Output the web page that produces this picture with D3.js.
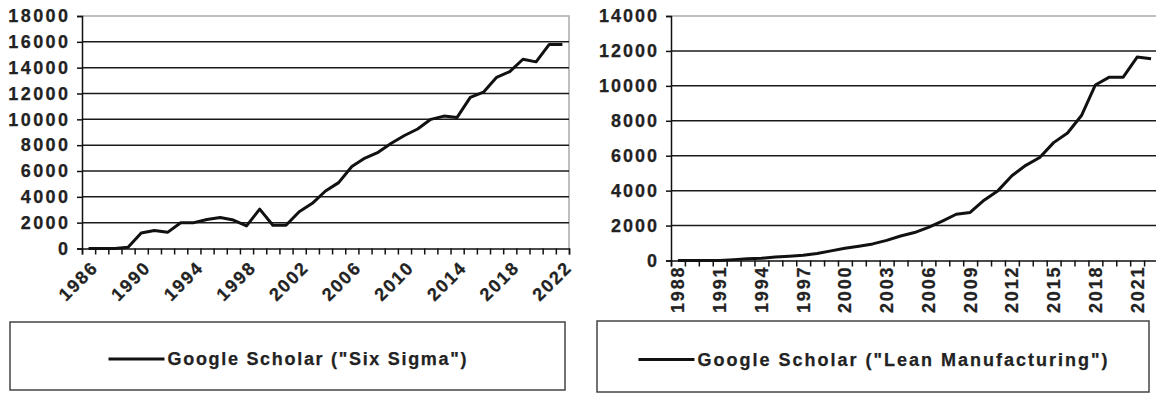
<!DOCTYPE html>
<html>
<head>
<meta charset="utf-8">
<script src="https://cdn.jsdelivr.net/npm/d3@7"></script>
<style>
  body { margin: 0; background: #fff; }
  svg text {
    font-family: "Liberation Sans", Arial, sans-serif;
    font-weight: bold;
    font-size: 18px;
    fill: #222;
    stroke: #222;
    stroke-width: 0.25px;
  }
</style>
</head>
<body>
<svg id="chart" width="1156" height="394"></svg>
<script>
// left panel: Google Scholar hits for "Six Sigma"
const sixSigmaYears = d3.range(1986, 2023);
const sixSigmaCounts = [0, 0, 0, 100, 1200, 1400, 1250, 2000, 2000, 2250,
  2400, 2200, 1750, 3050, 1800, 1800, 2850, 3500, 4450, 5100,
  6350, 7000, 7450, 8150, 8750, 9250, 10000, 10250, 10150, 11700,
  12100, 13250, 13700, 14650, 14450, 15800, 15800];
const sixSigmaYTicks = [0, 2000, 4000, 6000, 8000, 10000, 12000, 14000, 16000, 18000];
const sixSigmaYearLabels = [1986, 1990, 1994, 1998, 2002, 2006, 2010, 2014, 2018, 2022];

// right panel: Google Scholar hits for "Lean Manufacturing"
const leanYears = d3.range(1988, 2023);
const leanCounts = [0, 0, 0, 0, 50, 100, 130, 200, 250, 300,
  400, 550, 700, 820, 950, 1150, 1400, 1600, 1900, 2250,
  2650, 2750, 3450, 4000, 4850, 5450, 5900, 6750, 7300, 8300,
  10050, 10500, 10500, 11650, 11550];
const leanYTicks = [0, 2000, 4000, 6000, 8000, 10000, 12000, 14000];
const leanYearLabels = [1988, 1991, 1994, 1997, 2000, 2003, 2006, 2009, 2012, 2015, 2018, 2021];

const svg = d3.select("#chart");

// the scanned labels are widely tracked; stretch the spacing with textLength
function track(sel, gap) {
  sel.each(function () {
    const len = this.getComputedTextLength();
    const n = this.textContent.length;
    this.setAttribute("textLength", len + (n - 1) * gap);
    this.setAttribute("lengthAdjust", "spacing");
  });
}

function drawPanel(cfg) {
  const g = svg.append("g");
  const n = cfg.years.length;

  // category slots: ticks sit on slot borders, points in slot centres
  const x = d3.scaleLinear().domain([0, n]).range([cfg.left, cfg.right]);
  const y = d3.scaleLinear().domain([0, cfg.yMax]).range([cfg.bottom, cfg.top]);
  const xc = i => x(i + 0.5);

  // plot area frame (light grey top / right)
  g.append("path")
    .attr("d", `M${cfg.left},${cfg.top}H${cfg.right}V${cfg.bottom}`)
    .attr("fill", "none")
    .attr("stroke", "#aaa")
    .attr("stroke-width", 1.5);

  // gridlines
  g.selectAll(".grid")
    .data(cfg.yTicks.filter(d => d > 0 && d < cfg.yMax))
    .enter()
    .append("line")
    .attr("x1", cfg.left)
    .attr("x2", cfg.right)
    .attr("y1", d => y(d))
    .attr("y2", d => y(d))
    .attr("stroke", "#1a1a1a")
    .attr("stroke-width", 1.5);

  // y axis
  const yAxis = g.append("g")
    .attr("transform", `translate(${cfg.left},0)`)
    .call(d3.axisLeft(y).tickValues(cfg.yTicks).tickSize(5).tickPadding(9).tickFormat(d3.format("d")));
  yAxis.attr("font-size", null).attr("font-family", null);
  yAxis.select(".domain").attr("stroke", "#111").attr("stroke-width", 1.5);
  yAxis.selectAll(".tick line").attr("stroke", "#111").attr("stroke-width", 1.5);
  yAxis.selectAll("text").attr("fill", "#222").call(track, cfg.yGap);

  // x axis (tick marks only, labels drawn below)
  const xAxis = g.append("g")
    .attr("transform", `translate(0,${cfg.bottom})`)
    .call(d3.axisBottom(x).tickValues(d3.range(n + 1)).tickSize(6).tickFormat(""));
  xAxis.select(".domain").attr("stroke", "#111").attr("stroke-width", 1.5);
  xAxis.selectAll(".tick line").attr("stroke", "#111").attr("stroke-width", 1.5);

  // year labels
  const labels = g.selectAll(".year")
    .data(cfg.yearLabels)
    .enter()
    .append("text")
    .attr("text-anchor", "end")
    .attr("x", 0)
    .attr("y", 0)
    .text(d => d)
    .call(track, 1.8);
  if (cfg.rotate === -45) {
    labels.attr("transform", d => `translate(${xc(cfg.years.indexOf(d)) + 5},${cfg.bottom + 17}) rotate(-45)`)
      .attr("dy", "0.35em");
  } else {
    labels.attr("transform", d => `translate(${xc(cfg.years.indexOf(d))},${cfg.bottom + 7}) rotate(-90)`)
      .attr("dy", "0.36em");
  }

  // data line
  const line = d3.line()
    .x((d, i) => xc(i))
    .y(d => y(d));
  g.append("path")
    .datum(cfg.values)
    .attr("d", line)
    .attr("fill", "none")
    .attr("stroke", "#111")
    .attr("stroke-width", 3)
    .attr("stroke-linejoin", "round");

  // legend box
  const lb = cfg.legend;
  g.append("rect")
    .attr("x", lb.x)
    .attr("y", lb.y)
    .attr("width", lb.w)
    .attr("height", lb.h)
    .attr("fill", "none")
    .attr("stroke", "#444")
    .attr("stroke-width", 1.5);

  const leg = g.append("g");
  const lineLen = 56;
  const txt = leg.append("text")
    .attr("x", lineLen + 3)
    .attr("y", 0)
    .attr("dy", "0.35em")
    .text(cfg.label);
  const natural = txt.node().getComputedTextLength();
  txt.call(track, cfg.legGap);
  leg.append("line")
    .attr("x1", 0)
    .attr("x2", lineLen)
    .attr("stroke", "#111")
    .attr("stroke-width", 3);
  const total = lineLen + 3 + natural + (cfg.label.length - 1) * cfg.legGap;
  leg.attr("transform", `translate(${lb.x + (lb.w - total) / 2},${lb.y + lb.h / 2 + 3})`);
}

drawPanel({
  years: sixSigmaYears,
  values: sixSigmaCounts,
  yTicks: sixSigmaYTicks,
  yearLabels: sixSigmaYearLabels,
  yMax: 18000,
  yGap: 2.4,
  left: 82, right: 569, top: 16, bottom: 248.5,
  rotate: -45,
  label: 'Google Scholar ("Six Sigma")',
  legGap: 1.7,
  legend: { x: 10, y: 322, w: 555, h: 68 }
});

drawPanel({
  years: leanYears,
  values: leanCounts,
  yTicks: leanYTicks,
  yearLabels: leanYearLabels,
  yMax: 14000,
  yGap: 2,
  left: 671, right: 1158, top: 16, bottom: 260.5,
  rotate: -90,
  label: 'Google Scholar ("Lean Manufacturing")',
  legGap: 2,
  legend: { x: 597, y: 321, w: 552, h: 71 }
});
</script>
</body>
</html>
